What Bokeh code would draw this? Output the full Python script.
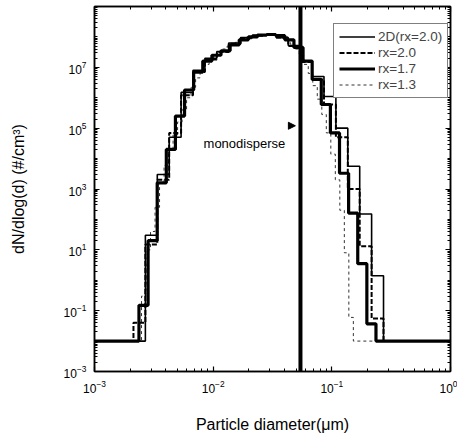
import numpy as np
from bokeh.plotting import figure
from bokeh.models import (LogAxis, FixedTicker, CustomJSTickFormatter,
                          Span, Arrow, NormalHead, Label)
from bokeh.embed import file_html
from bokeh.resources import INLINE

# ---------------- data ----------------
# sectional size distributions, dN/dlog(d) per section (#/cm^3)
# each series: first section lower diameter (um), volume ratio rx, section values
start_2d = 0.00213
rx_2d = 2.0
vals_2d = [0.01, 30, 3e3, 5e4, 1.5e6, 8e6, 2e7, 3.3e7, 6.3e7, 9.5e7, 1.15e8,
           1.18e8, 9.5e7, 5.2e7, 1.6e7, 5e6, 1.1e6, 1e5, 5.6e3, 150, 1.4]

start_20 = 0.00213
rx_20 = 2.0
vals_20 = [0.04, 15, 2e3, 7e4, 1.2e6, 7e6, 1.8e7, 3.2e7, 6e7, 9e7, 1.1e8,
           1.15e8, 9.5e7, 5e7, 1.5e7, 4e6, 6e5, 5e4, 1e3, 13, 0.055]

start_17 = 0.00237
rx_17 = 1.7
vals_17 = [0.15, 20, 1.6e3, 2e4, 2.5e5, 1.8e6, 7e6, 1.6e7, 2.5e7, 3.5e7, 5.5e7,
           8e7, 1e8, 1.15e8, 1.2e8, 1.1e8, 8e7, 4.5e7, 1.6e7, 4e6, 6e5, 7e4,
           3.3e3, 160, 3.5, 0.037]

start_13 = 0.00249
rx_13 = 1.3
vals_13 = [0.3, 10, 40, 250, 1.6e3, 6e3, 2e4, 6e4, 1.6e5, 4e5, 1e6, 2.2e6,
           4.5e6, 8e6, 1.25e7, 1.8e7, 2.4e7, 3.2e7, 4e7, 5e7, 6.3e7, 7.6e7,
           8.7e7, 9.8e7, 1.07e8, 1.12e8, 1.17e8, 1.2e8, 1.2e8, 1.15e8, 1.05e8,
           9.1e7, 7.6e7, 5.8e7, 4e7, 2.5e7, 1.25e7, 6.3e6, 2.5e6, 9e5, 2.8e5,
           7e4, 1.4e4, 2e3, 200, 8, 0.06]

floor_value = 0.01          # background level outside the sections
mono_diameter = 0.0544      # monodisperse particle diameter (um)

x_ticks = [1e-3, 1e-2, 1e-1, 1e0]
y_ticks = [1e-3, 1e-1, 1e1, 1e3, 1e5, 1e7]

FONT = "Liberation Sans"


def step_path(start, rx, vals):
    edges = start * (rx ** (1.0 / 3.0)) ** np.arange(len(vals) + 1)
    xs = [x_ticks[0]] + list(edges) + [x_ticks[-1]]
    ys = [floor_value] + list(vals) + [floor_value, floor_value]
    return xs, ys


p = figure(width=457, height=438, x_axis_type="log", y_axis_type="log",
           x_range=(1e-3, 1e0), y_range=(1e-3, 1e9),
           output_backend="svg", toolbar_location=None,
           frame_width=356, frame_height=365,
           min_border_left=94, min_border_right=7,
           min_border_top=6, min_border_bottom=67)
p.background_fill_color = "white"
p.border_fill_color = "white"
p.grid.visible = False
p.outline_line_color = "black"
p.outline_line_width = 1.5

y_minor = []
for e in range(-3, 9):
    for k in range(1, 10):
        v = k * 10.0 ** e
        if v not in y_ticks:
            y_minor.append(v)
x_minor = []
for e in range(-3, 0):
    for k in range(2, 10):
        x_minor.append(k * 10.0 ** e)

xt = FixedTicker(ticks=x_ticks, minor_ticks=x_minor)
yt = FixedTicker(ticks=y_ticks, minor_ticks=y_minor)

bottom = p.below[0]
left = p.left[0]
bottom.ticker = xt
left.ticker = yt

blank = CustomJSTickFormatter(code="return ''")
top = LogAxis(ticker=xt, formatter=blank)
right = LogAxis(ticker=yt, formatter=blank)
p.add_layout(top, "above")
p.add_layout(right, "right")

for ax in (bottom, left, top, right):
    ax.major_tick_in = 5
    ax.major_tick_out = 0
    ax.minor_tick_in = 3
    ax.minor_tick_out = 0
    ax.axis_line_width = 1.5
    ax.major_tick_line_width = 1.2
    ax.major_label_text_font = FONT
    ax.major_label_text_font_size = "12px"
    ax.major_label_text_color = "black"
    ax.axis_label_text_font = FONT
    ax.axis_label_text_font_style = "normal"
    ax.axis_label_text_color = "black"

for ax in (top, right):
    ax.major_label_standoff = 0
    ax.major_label_text_font_size = "1px"

bottom.axis_label = "Particle diameter(\u03bcm)"
bottom.axis_label_text_font_size = "16px"
bottom.major_label_standoff = 8
bottom.axis_label_standoff = 20

left.axis_label = "dN/dlog(d) (#/cm\u00b3)"
left.axis_label_text_font_size = "16px"
left.major_label_standoff = 8
left.axis_label_standoff = 34

# series
x, y = step_path(start_13, rx_13, vals_13)
r13 = p.step(x, y, mode="after", line_color="#333333", line_width=1,
             line_dash="3 3", legend_label="rx=1.3")
x, y = step_path(start_2d, rx_2d, vals_2d)
r2d = p.step(x, y, mode="after", line_color="black", line_width=1.6,
             legend_label="2D(rx=2.0)")
x, y = step_path(start_20, rx_20, vals_20)
r20 = p.step(x, y, mode="after", line_color="black", line_width=2,
             line_dash="5 2", legend_label="rx=2.0")
x, y = step_path(start_17, rx_17, vals_17)
r17 = p.step(x, y, mode="after", line_color="black", line_width=3.2,
             legend_label="rx=1.7")

# monodisperse line
p.add_layout(Span(location=mono_diameter, dimension="height",
                  line_color="black", line_width=4))
p.add_layout(Arrow(end=NormalHead(size=7, fill_color="black", line_color="black"),
                   x_start=0.043, y_start=1.2e5, x_end=0.0493, y_end=1.2e5,
                   line_color="black", line_width=1.5))
p.add_layout(Label(x=0.0083, y=3.2e4, text="monodisperse",
                   text_font=FONT, text_font_size="13px",
                   text_baseline="middle", text_align="left",
                   text_color="black"))

# legend
leg = p.legend[0]
leg.items = [leg.items[1], leg.items[2], leg.items[3], leg.items[0]]
leg.location = (239, 273)
leg.border_line_color = "black"
leg.border_line_width = 1.5
leg.background_fill_alpha = 1
leg.label_text_font = FONT
leg.label_text_font_size = "13.5px"
leg.label_height = 15
leg.glyph_height = 15
leg.glyph_width = 36
leg.spacing = 1
leg.padding = 5
leg.margin = 0
leg.label_standoff = 3

open("out.html", "w").write(file_html(p, INLINE))
